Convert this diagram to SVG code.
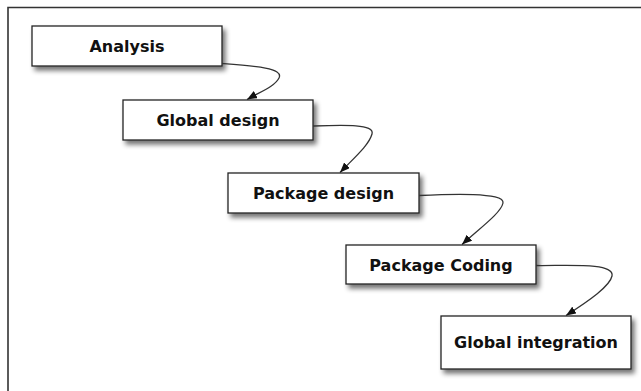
<svg xmlns="http://www.w3.org/2000/svg" width="641" height="391" viewBox="0 0 641 391">
<style>
.box{fill:#fff;stroke:#222;stroke-width:1.3;filter:url(#sh)}
.lbl{font-family:"DejaVu Sans",Verdana,sans-serif;font-weight:bold;font-size:16px;fill:#111;text-anchor:middle}
.con{fill:none;stroke:#333;stroke-width:1.3;marker-end:url(#ah)}
</style>
<defs>
<filter id="sh" x="-10%" y="-20%" width="130%" height="160%">
<feGaussianBlur in="SourceAlpha" stdDeviation="2.5"/>
<feOffset dx="3" dy="4" result="b"/>
<feComponentTransfer><feFuncA type="linear" slope="0.55"/></feComponentTransfer>
<feMerge><feMergeNode/><feMergeNode in="SourceGraphic"/></feMerge>
</filter>
<marker id="ah" viewBox="0 0 10 8" refX="10" refY="4" markerWidth="10" markerHeight="8" markerUnits="userSpaceOnUse" orient="auto">
<path d="M0,0 L10,4 L0,8 z" fill="#111"/>
</marker>
</defs>
<rect width="641" height="391" fill="#fff"/>
<path d="M8,391 V7.5 H641" fill="none" stroke="#333" stroke-width="1.6"/>
<g id="n1"><rect class="box" x="32" y="26" width="190" height="40"/><text class="lbl" x="127" y="52">Analysis</text></g>
<g id="n2"><rect class="box" x="123" y="100" width="190" height="40"/><text class="lbl" x="218" y="126">Global design</text></g>
<g id="n3"><rect class="box" x="228" y="173" width="191" height="40"/><text class="lbl" x="323.5" y="199">Package design</text></g>
<g id="n4"><rect class="box" x="346" y="245" width="190" height="39"/><text class="lbl" x="441" y="270.5">Package Coding</text></g>
<g id="n5"><rect class="box" x="441" y="316" width="190" height="53"/><text class="lbl" x="536" y="348">Global integration</text></g>
<g id="connectors">
<path class="con" d="M222,63.5 C255,66 284,68 279,78 C275,86 262,91 247,99.5"/>
<path class="con" d="M313,126 C345,125 375,124 372,134 C369,145 355,157 340,172.5"/>
<path class="con" d="M419,195.5 C450,194 505,192 503,203 C501,213 480,228 462,244.5"/>
<path class="con" d="M536,265.5 C565,266 615,262 612,276 C610,286 590,300 566,315.5"/>
</g>
</svg>
